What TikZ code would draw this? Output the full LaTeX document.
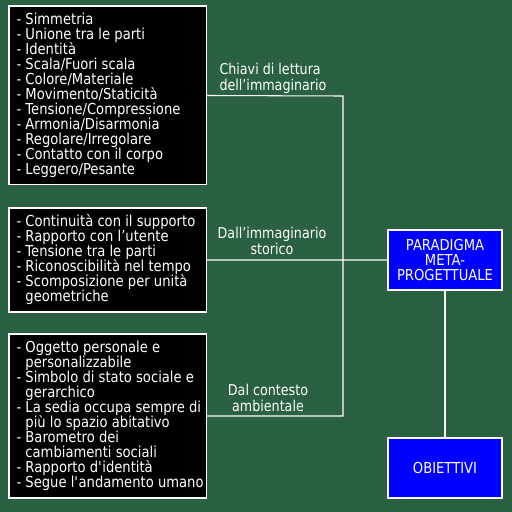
\documentclass[tikz,border=0pt]{standalone}
\usepackage{fontspec}
\newfontfamily\cadfont[FakeStretch=0.87]{DejaVu Sans}
\newfontfamily\tagfont[FakeStretch=0.85]{DejaVu Sans}
\usetikzlibrary{positioning}
\definecolor{boardGreen}{HTML}{2B6143}
\definecolor{paraBlue}{HTML}{0000FF}
\newcommand\fixedlines{\lineskiplimit=-100pt\lineskip=0pt\relax}

\begin{document}
\begin{tikzpicture}[x=0.02cm, y=-0.02cm, line width=0.6pt,
  font=\cadfont\fontsize{8.6pt}{8.54pt}\selectfont\fixedlines,
  listbox/.style={draw=white, fill=black, anchor=north west,
    minimum width=3.96cm, inner sep=0pt, outer sep=0pt},
  listtext/.style={text=white, align=left, anchor=west, inner sep=0pt},
  goalbox/.style={draw=white, fill=paraBlue, text=white, align=center,
    minimum width=2.28cm, minimum height=1.2cm, outer sep=0pt},
  tag/.style={text=white, inner sep=0pt,
    font=\tagfont\fontsize{8.5pt}{9pt}\selectfont\fixedlines}]
\fill[boardGreen] (0,0) rectangle (512,512);
\useasboundingbox (0,0) rectangle (512,512);
% lists on the left
\node[listbox, minimum height=3.58cm] (chiavi) at (9,6) {};
\node[listtext] (chiaviText) at ([xshift=0.14cm]chiavi.west) {%
  - Simmetria\\ - Unione tra le parti\\ - Identità\\ - Scala/Fuori scala\\
  - Colore/Materiale\\ - Movimento/Staticità\\ - Tensione/Compressione\\
  - Armonia/Disarmonia\\ - Regolare/Irregolare\\ - Contatto con il corpo\\
  - Leggero/Pesante};
\node[listbox, minimum height=2.08cm] (storico) at (9,208) {};
\node[listtext] (storicoText) at ([xshift=0.14cm]storico.west) {%
  - Continuità con il supporto\\ - Rapporto con l’utente\\
  - Tensione tra le parti\\ - Riconoscibilità nel tempo\\
  - Scomposizione per unità\\ \phantom{- }geometriche};
\node[listbox, minimum height=3.28cm] (contesto) at (9,334) {};
\node[listtext] (contestoText) at ([xshift=0.14cm]contesto.west) {%
  - Oggetto personale e\\ \phantom{- }personalizzabile\\
  - Simbolo di stato sociale e\\ \phantom{- }gerarchico\\
  - La sedia occupa sempre di\\ \phantom{- }più lo spazio abitativo\\
  - Barometro dei\\ \phantom{- }cambiamenti sociali\\
  - Rapporto d\textquotesingle identità\\
  - Segue l\textquotesingle andamento umano};
% blue boxes
\node[goalbox] (paradigma) at (445,260) {PARADIGMA\\META-\\PROGETTUALE};
\node[goalbox] (obiettivi) at (445,468) {OBIETTIVI};
% connectors
\coordinate (busTop) at (343,96);
\coordinate (busBot) at (343,416);
\draw[white] (chiavi.east) -- (busTop) -- (busBot) -- (contesto.east);
\draw[white] (storico.east) -- (paradigma.west);
\draw[white] (paradigma.south) -- (obiettivi.north);
% labels
\node[tag, anchor=west, align=left] (tagChiavi) at (219,78) {Chiavi di lettura\\dell’immaginario};
\node[tag, align=center] (tagStorico) at (272,241) {Dall’immaginario\\storico};
\node[tag, align=center] (tagContesto) at (268,398) {Dal contesto\\ambientale};
\end{tikzpicture}
\end{document}
